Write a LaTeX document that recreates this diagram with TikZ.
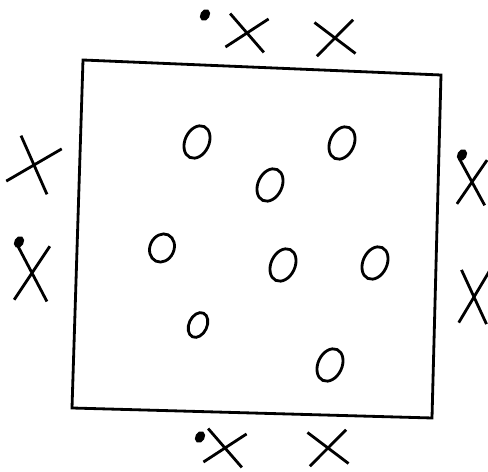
\documentclass[tikz,border=0pt]{standalone}
\usepackage{tikz}
\usetikzlibrary{shapes.geometric,shapes.misc}

\begin{document}
\begin{tikzpicture}[x=0.02cm,y=-0.02cm,line width=1.6pt,
    nought/.style={draw,ellipse,inner sep=0pt,minimum width=0.48cm,minimum height=0.68cm,rotate=-25},
    smallnought/.style={nought,minimum width=0.36cm,minimum height=0.52cm},
    cross/.style={draw,cross out,inner sep=0pt,minimum width=0.72cm,minimum height=0.62cm,rotate=-8},
    mark dot/.style={draw,fill,ellipse,line width=0.8pt,inner sep=0pt,minimum width=0.16cm,minimum height=0.22cm,rotate=-30}]
    \useasboundingbox (0,0) rectangle (488,472);
    % the square
    \coordinate (tl) at (83,60);
    \coordinate (tr) at (441,75);
    \coordinate (br) at (432,418);
    \coordinate (bl) at (72,408);
    \draw (tl) -- (tr) -- (br) -- (bl) -- cycle;
    % noughts inside
    \node[nought] (o1) at (197,142) {};
    \node[nought] (o2) at (342,143) {};
    \node[nought] (o3) at (270,185) {};
    \node[nought,minimum height=0.58cm] (o4) at (162,248) {};
    \node[nought] (o5) at (283,265) {};
    \node[nought] (o6) at (375,263) {};
    \node[smallnought] (o7) at (198,325) {};
    \node[nought] (o8) at (330,365) {};
    % crosses outside
    \node[cross] (xtop1) at (247,33) {};
    \node[cross,rotate=12] (xtop2) at (335,38) {};
    \node[cross,minimum width=0.8cm,minimum height=0.9cm,rotate=-10] (xleft1) at (34,165) {};
    \node[cross,minimum width=0.6cm,minimum height=1.05cm,rotate=5] (xleft2) at (32,273) {};
    \node[cross,minimum width=0.5cm,minimum height=0.85cm,rotate=5] (xright1) at (472,182) {};
    \node[cross,minimum width=0.5cm,minimum height=1cm,rotate=5] (xright2) at (474,297) {};
    \node[cross] (xbot1) at (225,448) {};
    \node[cross,rotate=12] (xbot2) at (328,448) {};
    % dots
    \node[mark dot] (d1) at (205,15) {};
    \node[mark dot] (d2) at (19,242) {};
    \node[mark dot] (d3) at (462,155) {};
    \node[mark dot] (d4) at (200,437) {};
\end{tikzpicture}
\end{document}
